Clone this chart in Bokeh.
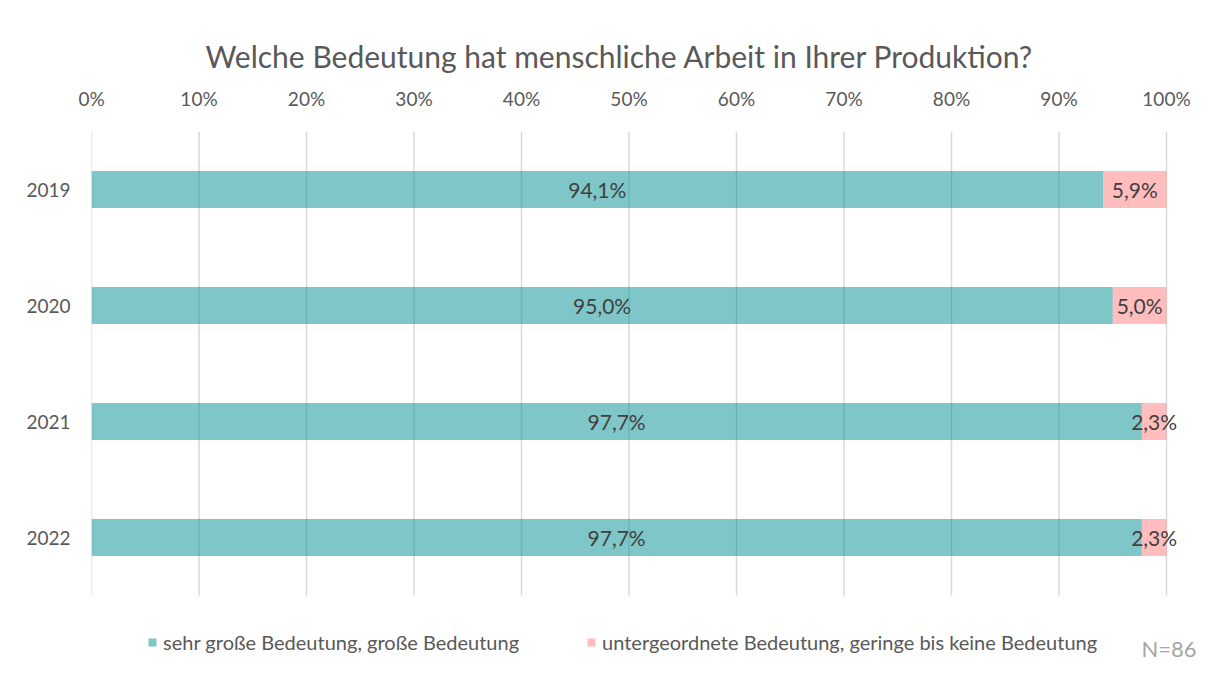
from bokeh.plotting import figure
from bokeh.models import (Range1d, ColumnDataSource, LabelSet, Label,
                          Legend, LegendItem, FixedTicker, CustomJSTickFormatter)
from bokeh.core.properties import value
from bokeh.embed import file_html
from bokeh.resources import INLINE

years = ["2019", "2020", "2021", "2022"]
high = [94.1, 95.0, 97.7, 97.7]
low = [5.9, 5.0, 2.3, 2.3]
series_names = ["sehr große Bedeutung, große Bedeutung",
                "untergeordnete Bedeutung, geringe bis keine Bedeutung"]
series_colors = ["#008d91", "#ff7b7b"]
title_text = "Welche Bedeutung hat menschliche Arbeit in Ihrer Produktion?"
x_ticks = [0, 10, 20, 30, 40, 50, 60, 70, 80, 90, 100]
note = "N=86"

FONT = "Lato"
TXT = "#595959"

n = len(years)
ypos = [n - i - 0.5 for i in range(n)]   # first year on top

src = ColumnDataSource(dict(
    y=ypos,
    year=years,
    high=high,
    low=low,
    low_left=high,
    total=[h + l for h, l in zip(high, low)],
    high_mid=[h / 2 for h in high],
    low_mid=[h + l / 2 for h, l in zip(high, low)],
    high_lbl=[f"{h:.1f}%".replace(".", ",") for h in high],
    low_lbl=[f"{l:.1f}%".replace(".", ",") for l in low],
))

# frame: x 91..1199 (100% at 1166), y 131..659 (categories 131..595)
x_end = 100 * (1199 - 91) / (1166 - 91)
y_start = -(659 - 595) / ((595 - 131) / n)

p = figure(width=1199, height=659, output_backend="svg", toolbar_location=None,
           y_range=Range1d(y_start, n), x_range=Range1d(0, x_end),
           x_axis_location="above",
           min_border_left=91, min_border_right=0, min_border_top=131, min_border_bottom=0)

p.title.text = title_text
p.title.align = "left"
p.title.offset = 114
p.title.text_font = FONT
p.title.text_font_size = "30px"
p.title.text_font_style = "normal"
p.title.text_color = TXT
p.title.standoff = 20

p.outline_line_color = None
p.xgrid.grid_line_color = None
p.ygrid.grid_line_color = None

# vertical gridlines spanning only the category area
p.segment(x0=x_ticks, x1=x_ticks, y0=[0] * len(x_ticks), y1=[n] * len(x_ticks),
          line_color="#d9d9d9", line_width=1.5)

bar_h = 0.32
r1 = p.hbar(y="y", left=0, right="high", height=bar_h, source=src,
            fill_color=series_colors[0], fill_alpha=0.5, line_color=None)
r2 = p.hbar(y="y", left="low_left", right="total", height=bar_h, source=src,
            fill_color=series_colors[1], fill_alpha=0.5, line_color=None)

p.add_layout(LabelSet(x="high_mid", y="y", text="high_lbl", source=src,
                      text_align="center", text_baseline="middle",
                      text_font=value(FONT), text_font_size="21px", text_color="#404040"))
p.add_layout(LabelSet(x="low_mid", y="y", text="low_lbl", source=src,
                      text_align="center", text_baseline="middle",
                      text_font=value(FONT), text_font_size="21px", text_color="#404040"))

xa = p.xaxis[0]
xa.ticker = FixedTicker(ticks=x_ticks)
xa.formatter = CustomJSTickFormatter(code="return tick.toFixed(0) + '%';")
ya = p.yaxis[0]
ya.ticker = FixedTicker(ticks=ypos)
ya.major_label_overrides = {y: yr for y, yr in zip(ypos, years)}
for ax in (xa, ya):
    ax.axis_line_color = None
    ax.major_tick_line_color = None
    ax.minor_tick_line_color = None
    ax.major_label_text_font = FONT
    ax.major_label_text_font_size = "19px"
    ax.major_label_text_color = TXT
xa.major_label_standoff = 16
ya.major_label_standoff = 15

legend = Legend(items=[LegendItem(label=nm, renderers=[r]) for nm, r in zip(series_names, [r1, r2])],
                orientation="horizontal", location=(56, 5),
                label_text_font=FONT, label_text_font_size="20px", label_text_color=TXT,
                glyph_width=10, glyph_height=10, spacing=67, label_standoff=6,
                border_line_color=None, background_fill_alpha=0, margin=0, padding=0)
p.add_layout(legend, "center")

p.add_layout(Label(x=x_end, x_offset=-3, y=-(648 - 595) / ((595 - 131) / n), text=note,
                   text_align="right", text_baseline="middle", text_font=FONT,
                   text_font_size="22px", text_color="#a6a6a6"))

open("out.html", "w").write(file_html(p, INLINE))
